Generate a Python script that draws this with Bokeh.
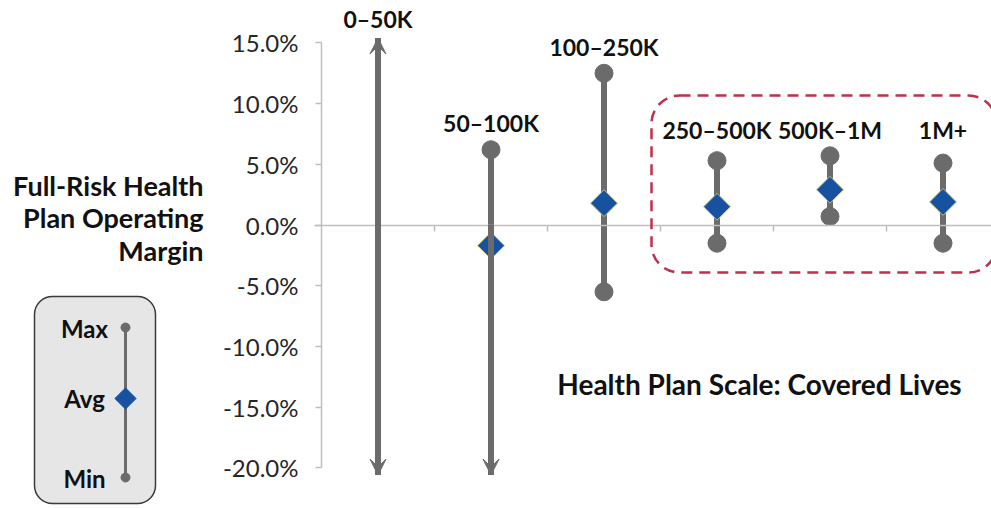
from bokeh.plotting import figure
from bokeh.models import (Range1d, LinearAxis, FixedTicker, PrintfTickFormatter,
                          BoxAnnotation, Arrow, VeeHead, Label)
from bokeh.core.properties import value
from bokeh.embed import file_html
from bokeh.resources import INLINE
import math

# ---------------- data ----------------
categories = ["0–50K", "50–100K", "100–250K", "250–500K", "500K–1M", "1M+"]
max_vals = [None, 6.2, 12.5, 5.3, 5.7, 5.1]      # None = off the chart (arrow)
avg_vals = [None, -1.7, 1.8, 1.5, 2.9, 1.9]
min_vals = [None, None, -5.5, -1.5, 0.7, -1.5]
y_ticks = [-20, -15, -10, -5, 0, 5, 10, 15]
off_top = 15.4        # arrow tip beyond the scale
off_bottom = -20.6
group_label_y = 7.8   # common label height for the grouped (large) plans

# ---------------- pixel <-> data helpers (layout only) ----------------
X0PX, SLOT = 321.0, 113.0
Y0PX, YPX = 224.5, 12.14
W, H = 991, 508
def xd(px): return (px - X0PX) / SLOT
def yd(py): return (Y0PX - py) / YPX

FONT = "Lato"
GREY = "#6b6b6b"
BLUE = "#1652a0"
TXT = "#111111"

p = figure(width=W, height=H, x_range=Range1d(xd(0), xd(W)), y_range=Range1d(yd(H), yd(0)),
           output_backend="svg", toolbar_location=None,
           x_axis_location=None, y_axis_location=None, min_border=0,
           outline_line_color=None, background_fill_color="white")
p.grid.grid_line_color = None

# axes
yaxis = LinearAxis(fixed_location=0, ticker=FixedTicker(ticks=y_ticks),
                   formatter=PrintfTickFormatter(format="%.1f%%"), bounds=(-20, 15))
yaxis.axis_line_color = "#bfbfbf"
yaxis.axis_line_width = 1.5
yaxis.major_tick_line_color = "#bfbfbf"
yaxis.major_tick_line_width = 1.5
yaxis.major_tick_out = 6
yaxis.major_tick_in = 0
yaxis.minor_tick_line_color = None
yaxis.major_label_text_font = FONT
yaxis.major_label_text_font_size = "24px"
yaxis.major_label_text_color = "#262626"
yaxis.major_label_standoff = 17
p.add_layout(yaxis, "left")

xaxis = LinearAxis(fixed_location=0, ticker=FixedTicker(ticks=[1, 2, 3, 4, 5, 6]), bounds=(xd(314), 10))
xaxis.axis_line_color = "#bfbfbf"
xaxis.axis_line_width = 1.5
xaxis.major_tick_line_color = "#bfbfbf"
xaxis.major_tick_line_width = 1.5
xaxis.major_tick_out = 6
xaxis.major_tick_in = 0
xaxis.minor_tick_line_color = None
xaxis.major_label_text_color = None
p.add_layout(xaxis, "below")

# dashed group box
p.add_layout(BoxAnnotation(left=xd(651), right=xd(996), top=yd(95), bottom=yd(272),
                           fill_alpha=0, line_color="#c0304a", line_alpha=1, line_width=2.5,
                           line_dash="11 7", border_radius=28))

# whiskers
xs = [i + 0.5 for i in range(len(categories))]
tops = [m if m is not None else off_top for m in max_vals]
bots = [m if m is not None else off_bottom for m in min_vals]
p.segment(x0=xs, y0=bots, x1=xs, y1=tops, line_color=GREY, line_width=6)

# arrows for values off the scale
for x, mx, mn in zip(xs, max_vals, min_vals):
    if mx is None:
        p.add_layout(Arrow(end=VeeHead(size=16, fill_color=GREY, line_color=GREY),
                           x_start=x, y_start=0, x_end=x, y_end=off_top,
                           line_color=GREY, line_width=6))
    if mn is None:
        p.add_layout(Arrow(end=VeeHead(size=16, fill_color=GREY, line_color=GREY),
                           x_start=x, y_start=0, x_end=x, y_end=off_bottom,
                           line_color=GREY, line_width=6))

# max / min circles
cx = [x for x, v in zip(xs, max_vals) if v is not None] + [x for x, v in zip(xs, min_vals) if v is not None]
cy = [v for v in max_vals if v is not None] + [v for v in min_vals if v is not None]
p.scatter(x=cx, y=cy, size=18, marker="circle", fill_color=GREY, line_color=GREY)

# averages
ax = [x for x, v in zip(xs, avg_vals) if v is not None]
ay = [v for v in avg_vals if v is not None]
p.scatter(x=ax, y=ay, size=19, marker="square", angle=math.pi / 4,
          fill_color=BLUE, line_color="#c9c27a", line_width=1)

# category labels
label_y = []
for i, mx in enumerate(max_vals):
    if mx is None:
        label_y.append(off_top + 1.6)
    elif i >= 3:
        label_y.append(group_label_y)
    else:
        label_y.append(mx + 2.2)
p.text(x=xs, y=label_y, text=categories, text_font=value(FONT), text_font_style="bold",
       text_font_size="23px", text_color=TXT, text_align="center", text_baseline="middle")

# x axis title
p.add_layout(Label(x=xd(759), y=yd(383), text="Health Plan Scale: Covered Lives",
                   text_font=FONT, text_font_style="bold", text_font_size="28px",
                   text_color=TXT, text_align="center", text_baseline="middle"))

# y axis title (three lines, right aligned)
for t, py in zip(["Full-Risk Health", "Plan Operating", "Margin"], [185, 217, 250]):
    p.add_layout(Label(x=xd(203), y=yd(py), text=t, text_font=FONT, text_font_style="bold",
                       text_font_size="27px", text_color=TXT, text_align="right",
                       text_baseline="middle"))

# key box
p.add_layout(BoxAnnotation(left=xd(34), right=xd(155), top=yd(296), bottom=yd(503),
                           fill_color="#e6e6e6", fill_alpha=1, line_color="#3a3a3a",
                           line_alpha=1, line_width=1.5, border_radius=18, level="underlay"))
p.segment(x0=[xd(125)], y0=[yd(477)], x1=[xd(125)], y1=[yd(327)], line_color=GREY, line_width=3)
p.scatter(x=[xd(125), xd(125)], y=[yd(327), yd(477)], size=9, marker="circle",
          fill_color=GREY, line_color=GREY)
p.scatter(x=[xd(125)], y=[yd(398)], size=15, marker="square", angle=math.pi / 4,
          fill_color=BLUE, line_color=BLUE)
for t, py in zip(["Max", "Avg", "Min"], [328, 398, 478]):
    p.add_layout(Label(x=xd(84), y=yd(py), text=t, text_font=FONT, text_font_style="bold",
                       text_font_size="24px", text_color=TXT, text_align="center",
                       text_baseline="middle"))

open("out.html", "w").write(file_html(p, INLINE))
